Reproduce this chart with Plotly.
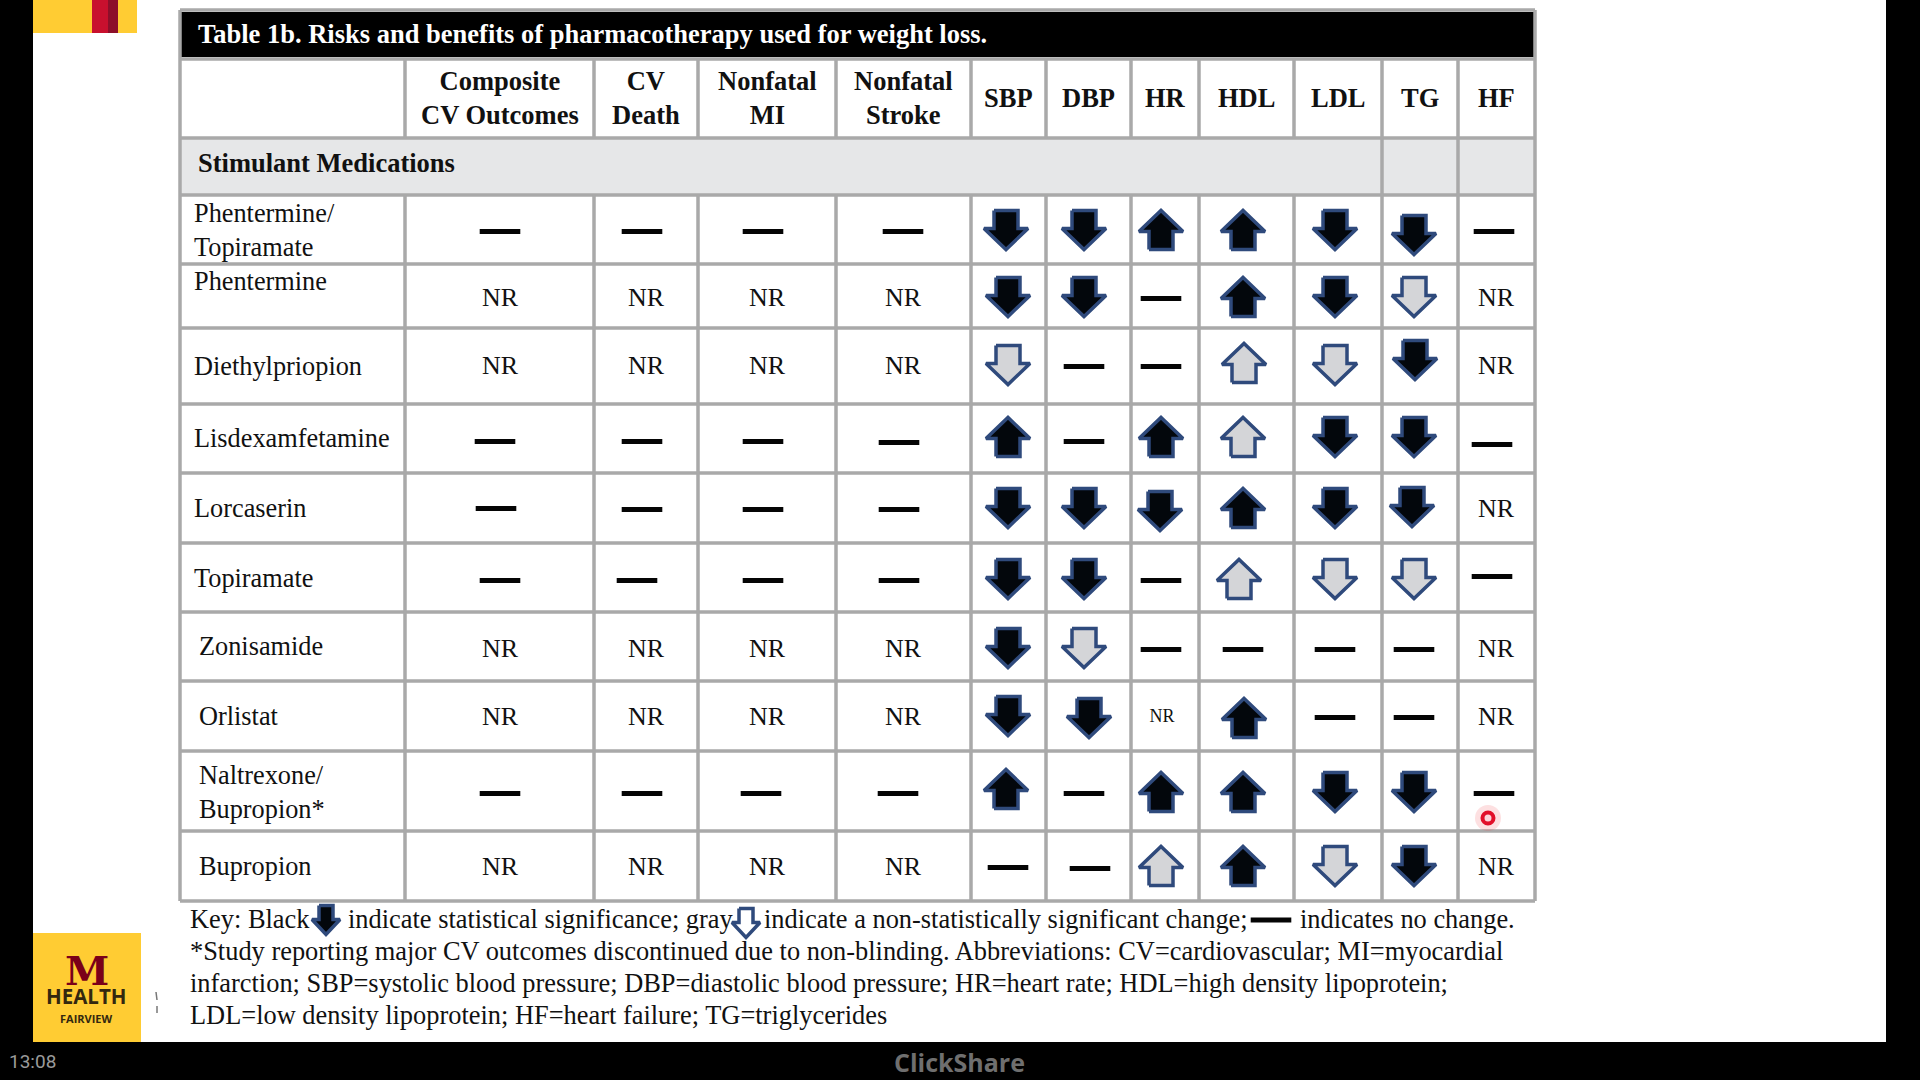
"""Table 1b slide: risks and benefits of pharmacotherapy used for weight loss."""

import plotly.graph_objects as go

TITLE = "Table 1b. Risks and benefits of pharmacotherapy used for weight loss."
GROUP_LABEL = "Stimulant Medications"
COLUMNS = [
    "Composite<br>CV Outcomes", "CV<br>Death", "Nonfatal<br>MI", "Nonfatal<br>Stroke",
    "SBP", "DBP", "HR", "HDL", "LDL", "TG", "HF",
]
DRUGS = [
    "Phentermine/<br>Topiramate", "Phentermine", "Diethylpriopion", "Lisdexamfetamine",
    "Lorcaserin", "Topiramate", "Zonisamide", "Orlistat", "Naltrexone/<br>Bupropion*", "Bupropion",
]

# D/U = black arrow (significant), d/u = gray arrow, - = no change, NR = not reported
PHEN_TOPI = ["-", "-", "-", "-", "D", "D", "U", "U", "D", "D", "-"]
PHENTERMINE = ["NR", "NR", "NR", "NR", "D", "D", "-", "U", "D", "d", "NR"]
DIETHYL = ["NR", "NR", "NR", "NR", "d", "-", "-", "u", "d", "D", "NR"]
LISDEX = ["-", "-", "-", "-", "U", "-", "U", "u", "D", "D", "-"]
LORCASERIN = ["-", "-", "-", "-", "D", "D", "D", "U", "D", "D", "NR"]
TOPIRAMATE = ["-", "-", "-", "-", "D", "D", "-", "u", "d", "d", "-"]
ZONISAMIDE = ["NR", "NR", "NR", "NR", "D", "d", "-", "-", "-", "-", "NR"]
ORLISTAT = ["NR", "NR", "NR", "NR", "D", "D", "NR", "U", "-", "-", "NR"]
NALTREXONE = ["-", "-", "-", "-", "U", "-", "U", "U", "D", "D", "-"]
BUPROPION = ["NR", "NR", "NR", "NR", "-", "-", "u", "U", "d", "D", "NR"]
RESULTS = [PHEN_TOPI, PHENTERMINE, DIETHYL, LISDEX, LORCASERIN, TOPIRAMATE, ZONISAMIDE, ORLISTAT, NALTREXONE, BUPROPION]

KEY_LINES = [
    "*Study reporting major CV outcomes discontinued due to non-blinding. Abbreviations: CV=cardiovascular; MI=myocardial",
    "infarction; SBP=systolic blood pressure; DBP=diastolic blood pressure; HR=heart rate; HDL=high density lipoprotein;",
    "LDL=low density lipoprotein; HF=heart failure; TG=triglycerides",
]

# layout of the slide, in screen pixels
COL_EDGES = [180, 405, 594, 698, 836, 971, 1046, 1131, 1199, 1294, 1382, 1458, 1535]
ROW_EDGES = [59, 138, 195, 264, 328, 404, 473, 543, 612, 681, 751, 831, 901]
COL_MARK = [500, 642, 763, 903, 1008, 1084, 1161, 1243, 1335, 1414, 1494]
ROW_MARK = [230, 297, 365, 440, 508, 579, 648, 716, 792, 866]
ARROW_SHIFT = [0, 0, 0, -3, 0, 0, 0, 0, 0, 0]
NR_SHIFT = [0, 4, 4, 0, 0, 0, 0, 0, 0, 0, 2]
LABEL_X = [192, 192, 192, 192, 192, 192, 197, 197, 197, 197]
LABEL_Y = [230, 281, 366, 438, 508, 578, 646, 716, 792, 866]
NUDGE = {
    (0, 9): (0, 5), (0, 4): (-2, 0), (2, 9): (1, -5), (2, 7): (1, -2), (3, 0): (-5, 0), (3, 3): (-4, 1),
    (3, 10): (-2, 3), (4, 0): (-4, -1), (4, 3): (-4, 0), (4, 6): (-1, 3), (4, 9): (-2, -1), (5, 1): (-5, 0),
    (5, 3): (-4, 0), (5, 7): (-4, 0), (5, 10): (-2, -4), (7, 5): (5, 2), (7, 7): (1, 2), (8, 4): (-2, -3),
    (8, 3): (-5, 0), (8, 2): (-2, 0), (9, 5): (6, 1),
}

SERIF = "Liberation Serif"
GRID = "#a9a9a9"
NAVY = "#2f4a7c"
GRAY_FILL = "#d4d5d8"
GOLD = "#ffcc33"
MAROON = "#7a0019"


def arrow_path(cx, cy, up, half_w=22, shaft=12, height=39, head=21):
    """Outline of a block arrow around (cx, cy), None-terminated so arrows share a trace."""
    sign = -1 if up else 1
    top = cy - sign * height / 2
    neck = top + sign * (height - head)
    tip = cy + sign * height / 2
    xs = [cx - shaft, cx + shaft, cx + shaft, cx + half_w, cx, cx - half_w, cx - shaft, cx - shaft, None]
    ys = [top, top, neck, neck, tip, neck, neck, top, None]
    return xs, ys


def arrow_trace(cells, fill, **size):
    xs, ys = [], []
    for cx, cy, up in cells:
        ax, ay = arrow_path(cx, cy, up, **size)
        xs += ax
        ys += ay
    return go.Scatter(x=xs, y=ys, mode="lines", fill="toself", fillcolor=fill,
                      line={"color": NAVY, "width": 3.5}, hoverinfo="skip")


def rect(x0, y0, x1, y1, color):
    return {"type": "rect", "x0": x0, "y0": y0, "x1": x1, "y1": y1, "fillcolor": color,
            "line": {"width": 0}, "layer": "below"}


def seg(x0, y0, x1, y1, color=GRID, width=3.5):
    return {"type": "line", "x0": x0, "y0": y0, "x1": x1, "y1": y1,
            "line": {"color": color, "width": width}, "layer": "below"}


def note(x, y, text, size=26, color="#111111", anchor="left", font=SERIF):
    return {"x": x, "y": y, "text": text, "showarrow": False, "xanchor": anchor, "yanchor": "middle",
            "align": anchor, "font": {"family": font, "size": size, "color": color}}


black, gray, dash_x, dash_y, nr_x, nr_y, small_x, small_y = [], [], [], [], [], [], [], []
for r, row in enumerate(RESULTS):
    for c, value in enumerate(row):
        dx, dy = NUDGE.get((r, c), (0, 0))
        x, y = COL_MARK[c] + dx, ROW_MARK[r] + dy
        if value in ("D", "U"):
            black.append((x, y + ARROW_SHIFT[r], value == "U"))
        elif value in ("d", "u"):
            gray.append((x, y + ARROW_SHIFT[r], value == "u"))
        elif value == "-":
            dash_x.append(x)
            dash_y.append(y + 1.5)
        elif DRUGS[r] == "Orlistat" and COLUMNS[c] == "HR":
            small_x.append(x + 1)
            small_y.append(y + 1)
        else:
            nr_x.append(x + NR_SHIFT[c])
            nr_y.append(y + 2)

fig = go.Figure()
fig.add_trace(arrow_trace(black, "#03070c"))
fig.add_trace(arrow_trace(gray, GRAY_FILL))
fig.add_trace(go.Scatter(x=dash_x + [1271], y=dash_y + [920], mode="markers", hoverinfo="skip",
                         marker={"symbol": "line-ew", "size": 29, "line": {"width": 5, "color": "#050505"}}))
fig.add_trace(go.Scatter(x=nr_x, y=nr_y, mode="text", text=["NR"] * len(nr_x), hoverinfo="skip",
                         textfont={"family": SERIF, "size": 26, "color": "#111111"}))
fig.add_trace(go.Scatter(x=small_x, y=small_y, mode="text", text=["NR"] * len(small_x), hoverinfo="skip",
                         textfont={"family": SERIF, "size": 18, "color": "#111111"}))
# key arrows
fig.add_trace(arrow_trace([(326, 920, False)], "#03070c", half_w=14, shaft=7, height=29, head=15))
fig.add_trace(arrow_trace([(746, 923, False)], "#ffffff", half_w=14, shaft=7, height=29, head=15))
# presenter's pointer
fig.add_trace(go.Scatter(x=[1488], y=[818], mode="markers", hoverinfo="skip",
                         marker={"size": 26, "color": "rgba(240,60,70,0.16)", "line": {"width": 0}}))
fig.add_trace(go.Scatter(x=[1488], y=[818], mode="markers", hoverinfo="skip",
                         marker={"size": 11, "color": "#fbd5da", "line": {"width": 4, "color": "#e2102a"}}))

shapes = [
    rect(0, 0, 33, 1080, "#000000"), rect(1886, 0, 1920, 1080, "#000000"), rect(0, 1042, 1920, 1080, "#000000"),
    rect(33, 0, 137, 33, GOLD), rect(92, 0, 108, 33, "#c8102e"), rect(108, 0, 118, 33, "#8c0f2a"),
    rect(33, 933, 141, 1042, GOLD),
    rect(180, 12, 1535, 57, "#000000"),
    rect(180, ROW_EDGES[2 - 1], 1535, ROW_EDGES[2], "#e6e7e8"),
    seg(156, 992, 157, 1000, "#777777", 1.5), seg(157, 1006, 157, 1013, "#777777", 1.5),
]
# outer border, row rules, then column rules (the group row only has the last two)
shapes += [seg(COL_EDGES[0], 10, COL_EDGES[-1], 10), seg(COL_EDGES[0], 10, COL_EDGES[0], ROW_EDGES[-1]),
           seg(COL_EDGES[-1], 10, COL_EDGES[-1], ROW_EDGES[-1])]
shapes += [seg(COL_EDGES[0], y, COL_EDGES[-1], y) for y in ROW_EDGES]
for x in COL_EDGES[1:-1]:
    shapes.append(seg(x, ROW_EDGES[0], x, ROW_EDGES[1]))
    shapes.append(seg(x, ROW_EDGES[2], x, ROW_EDGES[-1]))
shapes += [seg(x, ROW_EDGES[1], x, ROW_EDGES[2]) for x in COL_EDGES[-3:-1]]

notes = [
    note(196, 34, f"<b>{TITLE}</b>", size=26.5, color="#ffffff"),
    note(196, 163, f"<b>{GROUP_LABEL}</b>", size=26.5),
    note(188, 919, "Key: Black", size=26.4),
    note(346, 919, "indicate statistical significance; gray", size=26.4),
    note(762, 919, "indicate a non-statistically significant change;", size=26.4),
    note(1298, 919, "indicates no change.", size=26.4),
    note(7, 1061, "13:08", size=19, color="#9a9a9a", font="Roboto"),
    note(959, 1062, "<b>ClickShare</b>", size=25, color="#6f6f6f", anchor="center", font="Open Sans"),
    note(87, 970, "<b>M</b>", size=40, color=MAROON, anchor="center", font="DejaVu Serif"),
    note(86, 996, "<b>HEALTH</b>", size=20.5, color="#33280f", anchor="center", font="Open Sans"),
    note(86, 1018, "<b>FAIRVIEW</b>", size=11, color="#33280f", anchor="center", font="Open Sans"),
]
for i, line in enumerate(KEY_LINES):
    notes.append(note(188, [951, 983, 1015][i], line, size=26.4))
for c, label in enumerate(COLUMNS):
    center = (COL_EDGES[c + 1] + COL_EDGES[c + 2]) / 2
    notes.append(note(center, 98, f"<b>{label}</b>", size=26.5, anchor="center"))
for r, label in enumerate(DRUGS):
    notes.append(note(LABEL_X[r], LABEL_Y[r], label, size=26.3))

fig.update_layout(
    width=1920,
    height=1080,
    margin={"l": 0, "r": 0, "t": 0, "b": 0},
    paper_bgcolor="#ffffff",
    plot_bgcolor="#ffffff",
    showlegend=False,
    xaxis={"range": [0, 1920], "visible": False},
    yaxis={"range": [1080, 0], "visible": False},
    shapes=shapes,
    annotations=notes,
)
fig.write_html("out.html", config={"displayModeBar": False}, post_script="document.body.style.margin='0';")
